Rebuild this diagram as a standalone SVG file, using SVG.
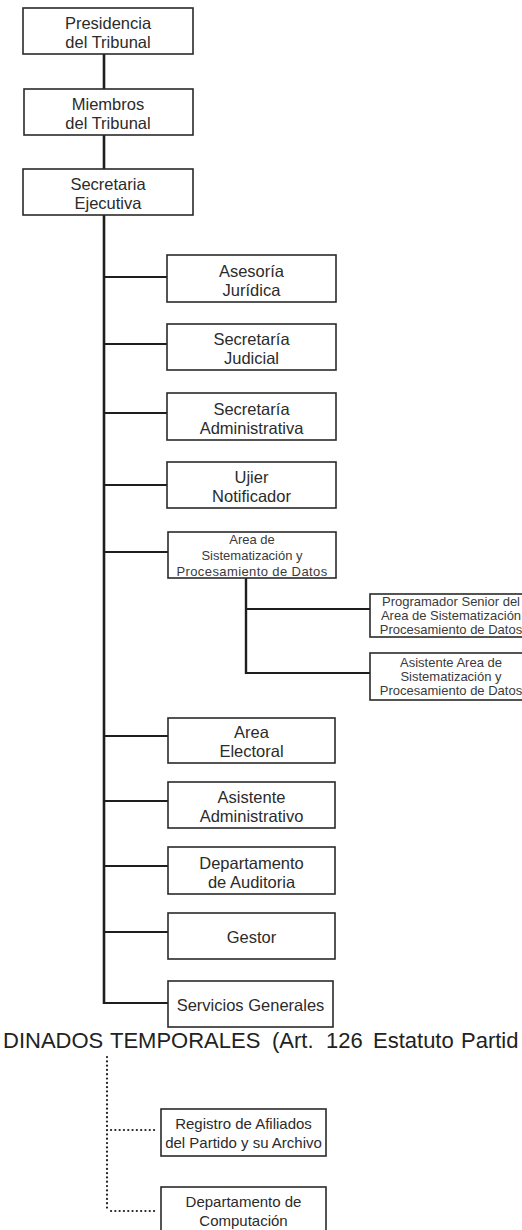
<svg xmlns="http://www.w3.org/2000/svg" width="522" height="1230" viewBox="0 0 522 1230">
<style>
.box{fill:#fff;stroke:#2a2a2a;stroke-width:1.6}
.t{font-family:"Liberation Sans",Arial,sans-serif;font-size:16.5px;fill:#2b2b2b;text-anchor:middle}
.s{font-family:"Liberation Sans",Arial,sans-serif;font-size:13px;fill:#3a3a3a;text-anchor:middle}
.m{font-family:"Liberation Sans",Arial,sans-serif;font-size:15px;fill:#2b2b2b;text-anchor:middle}
.ln{stroke:#1e1e1e;fill:none}
.dot{stroke:#222;stroke-width:2.2;stroke-dasharray:0.1 4.2;stroke-linecap:round;fill:none}
</style>
<rect width="522" height="1230" fill="#fff"/>
<g id="connectors">
<line class="ln" x1="104" y1="54" x2="104" y2="89" stroke-width="2.6"/>
<line class="ln" x1="104" y1="135" x2="104" y2="169" stroke-width="2.6"/>
<line class="ln" x1="104" y1="215" x2="104" y2="1004" stroke-width="2.6"/>
<g stroke-width="2">
<line class="ln" x1="104" y1="277" x2="167" y2="277"/>
<line class="ln" x1="104" y1="344" x2="167" y2="344"/>
<line class="ln" x1="104" y1="413" x2="167" y2="413"/>
<line class="ln" x1="104" y1="485" x2="167" y2="485"/>
<line class="ln" x1="104" y1="552" x2="168" y2="552"/>
<line class="ln" x1="104" y1="736" x2="168" y2="736"/>
<line class="ln" x1="104" y1="801" x2="168" y2="801"/>
<line class="ln" x1="104" y1="866" x2="168" y2="866"/>
<line class="ln" x1="104" y1="932" x2="168" y2="932"/>
<line class="ln" x1="104" y1="1003" x2="168" y2="1003"/>
<line class="ln" x1="246" y1="578" x2="246" y2="674" stroke-width="2.4"/>
<line class="ln" x1="246" y1="609" x2="370" y2="609"/>
<line class="ln" x1="246" y1="673" x2="370" y2="673"/>
</g>
<line class="dot" x1="107" y1="1057" x2="107" y2="1211"/>
<line class="dot" x1="111" y1="1130" x2="158" y2="1130"/>
<line class="dot" x1="111" y1="1211" x2="158" y2="1211"/>
</g>
<g id="presidencia">
<rect class="box" x="23" y="8" width="170" height="46"/>
<text class="t" x="108" y="29">Presidencia</text>
<text class="t" x="108" y="48">del Tribunal</text>
</g>
<g id="miembros">
<rect class="box" x="24" y="89" width="169" height="46"/>
<text class="t" x="108" y="110">Miembros</text>
<text class="t" x="108" y="129">del Tribunal</text>
</g>
<g id="secretaria-ejecutiva">
<rect class="box" x="23" y="169" width="170" height="46"/>
<text class="t" x="108" y="190">Secretaria</text>
<text class="t" x="108" y="209">Ejecutiva</text>
</g>
<g id="asesoria">
<rect class="box" x="167" y="255" width="169" height="47"/>
<text class="t" x="251.5" y="277">Asesoría</text>
<text class="t" x="251.5" y="296">Jurídica</text>
</g>
<g id="secretaria-judicial">
<rect class="box" x="167" y="324" width="169" height="46"/>
<text class="t" x="251.5" y="345">Secretaría</text>
<text class="t" x="251.5" y="364">Judicial</text>
</g>
<g id="secretaria-administrativa">
<rect class="box" x="167" y="393" width="169" height="47"/>
<text class="t" x="251.5" y="415">Secretaría</text>
<text class="t" x="251.5" y="434">Administrativa</text>
</g>
<g id="ujier">
<rect class="box" x="167" y="462" width="169" height="46"/>
<text class="t" x="251.5" y="483">Ujier</text>
<text class="t" x="251.5" y="502">Notificador</text>
</g>
<g id="area-sistematizacion">
<rect class="box" x="168" y="532" width="168" height="46"/>
<text class="s" x="252" y="544" font-size="12">Area de</text>
<text class="s" x="252" y="560">Sistematización y</text>
<text class="s" x="252" y="576" letter-spacing="0.4">Procesamiento de Datos</text>
</g>
<g id="programador">
<rect class="box" x="370" y="594" width="160" height="43"/>
<text class="s" x="451" y="606">Programador Senior del</text>
<text class="s" x="451" y="620">Area de Sistematización</text>
<text class="s" x="451" y="634">Procesamiento de Datos</text>
</g>
<g id="asistente-area">
<rect class="box" x="370" y="653" width="160" height="47"/>
<text class="s" x="451" y="667">Asistente Area de</text>
<text class="s" x="451" y="681">Sistematización y</text>
<text class="s" x="451" y="695">Procesamiento de Datos</text>
</g>
<g id="area-electoral">
<rect class="box" x="168" y="718" width="167" height="45"/>
<text class="t" x="251.5" y="738">Area</text>
<text class="t" x="251.5" y="757">Electoral</text>
</g>
<g id="asistente-administrativo">
<rect class="box" x="168" y="782" width="167" height="46"/>
<text class="t" x="251.5" y="803">Asistente</text>
<text class="t" x="251.5" y="822">Administrativo</text>
</g>
<g id="auditoria">
<rect class="box" x="168" y="847" width="167" height="47"/>
<text class="t" x="251.5" y="869">Departamento</text>
<text class="t" x="251.5" y="888">de Auditoria</text>
</g>
<g id="gestor">
<rect class="box" x="168" y="913" width="167" height="46"/>
<text class="t" x="251.5" y="943">Gestor</text>
</g>
<g id="servicios-generales">
<rect class="box" x="168" y="981" width="165" height="46"/>
<text class="t" x="250.5" y="1011">Servicios Generales</text>
</g>
<text y="1048" font-family="'Liberation Sans',Arial,sans-serif" font-size="22" fill="#222"><tspan x="3">DINADOS</tspan> <tspan x="110">TEMPORALES</tspan> <tspan x="272">(Art.</tspan> <tspan x="326">126</tspan> <tspan x="373">Estatuto</tspan> <tspan x="461">Partid</tspan></text>
<g id="registro-afiliados">
<rect class="box" x="161" y="1109" width="165" height="47"/>
<text class="m" x="243.5" y="1129">Registro de Afiliados</text>
<text class="m" x="243.5" y="1148">del Partido y su Archivo</text>
</g>
<g id="computacion">
<rect class="box" x="161" y="1187" width="165" height="47"/>
<text class="m" x="243.5" y="1207">Departamento de</text>
<text class="m" x="243.5" y="1226">Computación</text>
</g>
</svg>
